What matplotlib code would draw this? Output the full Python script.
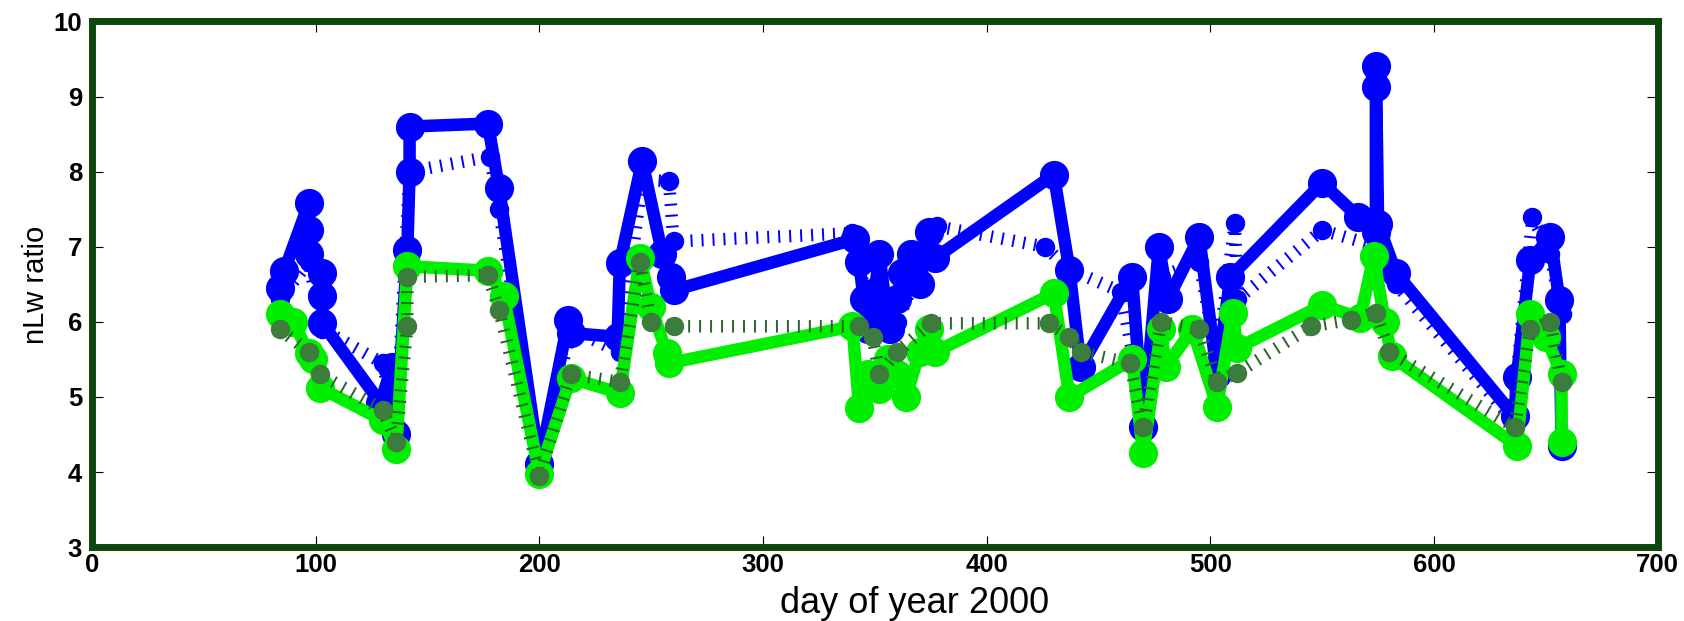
#! /usr/bin/env python3

""" Plot nLw ratio time series for the year 2000 matchups.
"""

import matplotlib
matplotlib.use("Agg")
from matplotlib import pyplot as plt

# solid series (big circles)
blue_days = [84, 86, 97, 97, 97, 103, 103, 103, 129, 134, 136, 141, 142, 142,
             177, 182, 200, 213, 214, 235, 236, 246, 255, 259, 260, 341, 343,
             345, 347, 350, 352, 355, 357, 360, 362, 366, 370, 374, 377, 430,
             437, 442, 465, 470, 477, 481, 495, 503, 509, 550, 566, 574, 574,
             574, 575, 583, 636, 637, 643, 652, 656, 657]
blue_solid = [6.45, 6.68, 7.58, 7.22, 6.90, 6.65, 6.35, 5.98, 4.92, 5.40, 4.50,
              6.96, 8.00, 8.60, 8.64, 7.78, 4.10, 6.03, 5.85, 5.80, 6.78, 8.14,
              6.90, 6.60, 6.42, 7.10, 6.80, 6.30, 5.90, 6.40, 6.90, 6.20, 5.90,
              6.30, 6.65, 6.90, 6.50, 7.20, 6.85, 7.96, 6.69, 5.40, 6.60, 4.60,
              7.00, 6.30, 7.13, 5.30, 6.60, 7.85, 7.40, 7.20, 9.13, 9.40, 7.30,
              6.65, 4.74, 5.27, 6.82, 7.13, 6.29, 4.35]

green_days = [84, 90, 97, 99, 102, 130, 136, 141, 177, 184, 200, 214, 236, 245,
              250, 257, 258, 340, 343, 347, 352, 356, 360, 364, 370, 374, 377,
              430, 437, 465, 470, 478, 480, 492, 503, 510, 512, 550, 567, 573,
              578, 581, 637, 643, 650, 657, 657]
green_solid = [6.11, 6.00, 5.58, 5.50, 5.12, 4.69, 4.30, 6.74, 6.68, 6.35, 3.98,
               5.25, 5.05, 6.85, 6.20, 5.58, 5.45, 5.94, 4.85, 5.30, 5.10, 5.50,
               5.30, 5.00, 5.60, 5.90, 5.60, 6.38, 5.00, 5.50, 4.25, 5.90, 5.40,
               5.90, 4.87, 6.12, 5.65, 6.22, 6.05, 6.87, 6.00, 5.54, 4.35, 6.10,
               5.80, 5.30, 4.40]

# dotted series (smaller markers)
bdot_days = [84, 97, 103, 130, 136, 142, 178, 182, 200, 214, 236, 246, 258,
             260, 340, 347, 360, 378, 426, 437, 460, 470, 478, 495, 503, 511,
             512, 550, 575, 583, 635, 644, 652, 657]
blue_dotted = [6.30, 6.80, 5.90, 5.45, 4.60, 8.00, 8.20, 7.50, 4.10, 5.90,
               5.60, 7.90, 7.87, 7.07, 7.18, 6.20, 6.00, 7.27, 7.00, 6.70,
               6.40, 4.80, 6.60, 6.80, 5.50, 7.32, 6.30, 7.22, 7.00, 6.50,
               4.70, 7.40, 6.90, 6.10]

gdot_days = [84, 97, 102, 130, 136, 141, 141, 177, 182, 200, 214, 236, 245,
             250, 260, 343, 349, 352, 360, 375, 428, 437, 442, 464, 470, 478,
             495, 503, 512, 545, 563, 574, 580, 636, 643, 652, 657]
green_dotted = [5.90, 5.60, 5.30, 4.83, 4.40, 5.94, 6.60, 6.62, 6.16, 3.95,
                5.30, 5.20, 6.80, 6.00, 5.94, 5.94, 5.80, 5.30, 5.60, 5.98,
                5.98, 5.80, 5.60, 5.45, 4.60, 6.00, 5.90, 5.20, 5.32, 5.94,
                6.03, 6.12, 5.60, 4.60, 5.90, 6.00, 5.20]

x_ticks = [0, 100, 200, 300, 400, 500, 600, 700]
y_ticks = [3, 4, 5, 6, 7, 8, 9, 10]

BLUE = "#0000ff"
GREEN = "#00ee00"
DARK_GREEN = "#2c642c"
DOT_MARK = "#3c7c3c"
FRAME = "#0e470e"

plt.rcParams["font.family"] = ["Liberation Sans", "DejaVu Sans"]
plt.rcParams["lines.scale_dashes"] = False

fig = plt.figure(figsize=(16.84, 6.21), dpi=100)
ax = fig.add_axes([0.0546, 0.119, 0.9298, 0.8465])

# thick dotted lines come out as short stripes across the line
dots = dict(lw=9, dashes=(1.4, 6.5), dash_capstyle="butt", marker="o", ms=13)
big = dict(lw=9, solid_joinstyle="round", marker="o", ms=20)

ax.plot(bdot_days, blue_dotted, color=BLUE, mfc=BLUE, mec=BLUE, **dots)
ax.plot(blue_days, blue_solid, color=BLUE, mfc=BLUE, mec=BLUE, **big)
ax.plot(green_days, green_solid, color=GREEN, mfc=GREEN, mec=GREEN, **big)
ax.plot(gdot_days, green_dotted, color=DARK_GREEN, mfc=DOT_MARK,
        mec=DOT_MARK, **dots)

ax.set_xlim(0, 700)
ax.set_ylim(3, 10)
ax.set_xticks(x_ticks)
ax.set_yticks(y_ticks)

for spine in ax.spines.values():
    spine.set_color(FRAME)
    spine.set_linewidth(5)

ax.tick_params(direction="in", length=8, width=0.8, top=True, right=True,
               labelsize=18.5)
ax.tick_params(axis="x", pad=4)
ax.tick_params(axis="y", pad=7)
for lab in ax.get_xticklabels() + ax.get_yticklabels():
    lab.set_fontweight("bold")

# axis labels sit low and a bit off centre, as in the original figure
fig.text(0.5433, 0.013, "day of year 2000", fontsize=26,
         ha="center", va="baseline")
fig.text(0.0214, 0.541, "nLw ratio", fontsize=21, rotation=90,
         ha="center", va="center")

fig.savefig("out.png", dpi=100)
